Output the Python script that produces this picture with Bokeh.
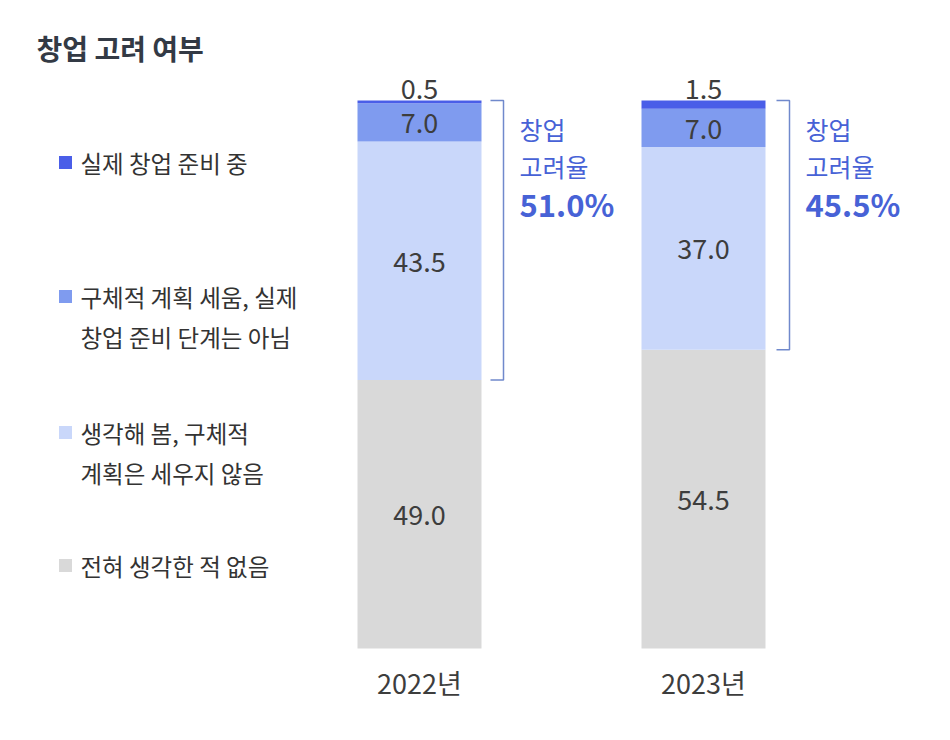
from bokeh.plotting import figure
from bokeh.models import Range1d, ColumnDataSource
from bokeh.core.properties import value
from bokeh.embed import file_html
from bokeh.resources import INLINE

# ---- data ----
years = ["2022년", "2023년"]
never = [49.0, 54.5]          # 전혀 생각한 적 없음
thought = [43.5, 37.0]        # 생각해 봄, 구체적 계획은 세우지 않음
planned = [7.0, 7.0]          # 구체적 계획 세움, 실제 창업 준비 단계는 아님
preparing = [0.5, 1.5]        # 실제 창업 준비 중
consider_rate = [51.0, 45.5]  # 창업 고려율
categories = ["실제 창업 준비 중",
              "구체적 계획 세움, 실제\n창업 준비 단계는 아님",
              "생각해 봄, 구체적\n계획은 세우지 않음",
              "전혀 생각한 적 없음"]
title_text = "창업 고려 여부"
rate_label = ["창업", "고려율"]

# ---- styles ----
FONT = value("Noto Sans CJK KR")
C_PREP = "#4a5ee8"
C_PLAN = "#7f9bef"
C_THOUGHT = "#c9d7fa"
C_NEVER = "#d9d9d9"
C_BRACKET = "#7089cc"
C_RATE = "#4762d6"
C_VAL = "#3d3d3d"
C_TXT = "#333333"
seg_colors = [C_NEVER, C_THOUGHT, C_PLAN, C_PREP]
legend_colors = [C_PREP, C_PLAN, C_THOUGHT, C_NEVER]

W, H = 934, 724
p = figure(width=W, height=H, output_backend="svg", toolbar_location=None,
           x_range=Range1d(0, W), y_range=Range1d(H, 0), min_border=0)
p.axis.visible = False
p.grid.visible = False
p.outline_line_color = None
p.background_fill_color = "white"

# percentage axis mapped so that 0% sits at pixel 648 and 100% at pixel 100
base_px, top_px = 648, 100
px_per_pct = (base_px - top_px) / 100.0
p.extra_y_ranges = {"pct": Range1d((base_px - H) / px_per_pct, base_px / px_per_pct)}

centers = [419, 703]
bar_w = 124

series = [never, thought, planned, preparing]
bottoms = [0.0, 0.0]
label_x, label_y, label_t, label_off = [], [], [], []
for vals, col in zip(series, seg_colors):
    tops = [b + v for b, v in zip(bottoms, vals)]
    src = ColumnDataSource(dict(x=centers, bottom=bottoms, top=tops))
    p.vbar(x="x", bottom="bottom", top="top", width=bar_w, source=src,
           fill_color=col, line_color=None, y_range_name="pct")
    for i, v in enumerate(vals):
        label_t.append(f"{v:.1f}")
        label_x.append(centers[i])
        if v >= 5:
            label_y.append((bottoms[i] + tops[i]) / 2)
            label_off.append(1)
        else:
            label_y.append(100.0)
            label_off.append(-12)
    bottoms = tops

p.text(x=label_x, y=label_y, text=label_t, y_offset=label_off,
       text_font=FONT, text_font_size="27px", text_color=C_VAL,
       text_align="center", text_baseline="middle", y_range_name="pct")

# year labels
p.text(x=centers, y=[682, 682], text=years, text_font=FONT, text_font_size="27px",
       text_color=C_VAL, text_align="center", text_baseline="middle")

# brackets (spanning 100% down to top of the "never" segment)
brk_x = [503, 789]
for i in range(2):
    top_y, bot_y = 100.0, never[i]
    xv = brk_x[i]
    p.line(x=[xv - 13, xv, xv, xv - 13], y=[top_y, top_y, bot_y, bot_y],
           line_color=C_BRACKET, line_width=1.5, y_range_name="pct")
    tx = xv + 16
    p.text(x=[tx, tx], y=[128, 165], text=rate_label, text_font=FONT,
           text_font_size="25px", text_color=C_RATE, text_align="left",
           text_baseline="middle")
    p.text(x=[tx], y=[203], text=[f"{consider_rate[i]:.1f}%"], text_font=FONT,
           text_font_size="31px", text_font_style="bold", text_color=C_RATE,
           text_align="left", text_baseline="middle")

# title
p.text(x=[36], y=[47], text=[title_text], text_font=FONT, text_font_size="28px",
       text_font_style="bold", text_color="#333a45", text_align="left",
       text_baseline="middle")

# legend
legend_y = [162, 296, 432, 565]
line_gap = 40
sq_x, sq_y, sq_c = [], [], []
lt_x, lt_y, lt_t = [], [], []
for cat, y0, col in zip(categories, legend_y, legend_colors):
    sq_x.append(65)
    sq_y.append(y0)
    sq_c.append(col)
    for j, line in enumerate(cat.split("\n")):
        lt_x.append(80)
        lt_y.append(y0 + j * line_gap)
        lt_t.append(line)
p.scatter(x=sq_x, y=sq_y, marker="square", size=13, fill_color=sq_c, line_color=None)
p.text(x=lt_x, y=lt_y, text=lt_t, text_font=FONT, text_font_size="23.5px",
       text_color=C_TXT, text_align="left", text_baseline="middle")

open("out.html", "w").write(file_html(p, INLINE))
